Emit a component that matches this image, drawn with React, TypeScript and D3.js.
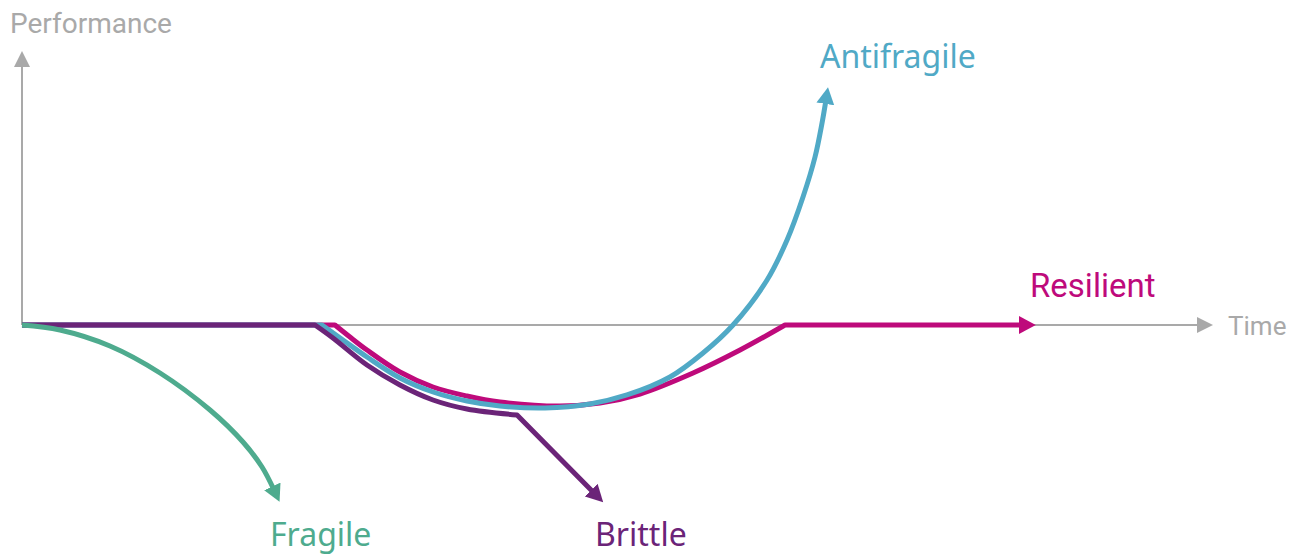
import * as d3 from 'd3'

// performance curves (time 0..100, performance -100..100)
const fragile: [number, number][] = [
  [0, 0], [3.19, -1.83], [7.39, -7.69], [11.6, -17.58], [15.8, -31.14], [18.57, -42.86],
  [20.17, -52.01], [21.18, -60.44],
]
const brittleFlat: [number, number][] = [[0, 0], [24.62, 0]]
const brittleCurve: [number, number][] = [
  [24.62, 0], [26.13, -4.76], [28.99, -14.65], [31.76, -21.98], [34.54, -27.47],
  [37.39, -30.77], [41.6, -32.97],
]
const brittleDrop: [number, number][] = [[41.6, -32.97], [48.07, -61.54]]
const antiFlat: [number, number][] = [[0, 0], [25.21, 0]]
const antiCurve: [number, number][] = [
  [25.21, 0], [26.97, -5.49], [28.99, -11.72], [31.76, -19.41], [34.54, -24.54],
  [37.39, -27.84], [40.17, -29.67], [43.95, -30.4], [47.73, -28.94], [50.84, -25.64],
  [54.45, -19.05], [57.23, -10.26], [59.75, 0], [62.61, 16.48], [64.29, 31.14],
  [65.63, 46.89], [66.64, 61.54], [67.23, 73.99], [67.56, 82.42],
]
const resFlat: [number, number][] = [[0, 0], [26.3, 0]]
const resCurve: [number, number][] = [
  [26.3, 0], [27.56, -4.4], [28.99, -9.16], [31.76, -17.22], [34.54, -22.71],
  [37.39, -26.01], [40.17, -28.21], [45.21, -29.67], [48.57, -28.57], [51.93, -25.27],
  [56.39, -17.58], [60.34, -9.16], [64.12, 0],
]
const resTail: [number, number][] = [[64.12, 0], [84.1, 0]]

const W = 1301
const H = 556
const x = d3.scaleLinear().domain([0, 100]).range([22, 1212])
const y = d3.scaleLinear().domain([-100, 100]).range([598, 52])

const straight = d3
  .line<[number, number]>()
  .x((d) => x(d[0]))
  .y((d) => y(d[1]))
const smooth = d3
  .line<[number, number]>()
  .x((d) => x(d[0]))
  .y((d) => y(d[1]))
  .curve(d3.curveCatmullRom.alpha(0.5))

// join pieces into one path so the marker sits at the end
function joined(parts: [d3.Line<[number, number]>, [number, number][]][]): string {
  return parts
    .map(([gen, pts], i) => {
      const s = gen(pts) || ''
      return i === 0 ? s : 'L' + s.slice(1)
    })
    .join('')
}

const GRAY = '#a9a9a9'
const GREEN = '#4eab8e'
const PURPLE = '#6b2478'
const BLUE = '#50a9c6'
const MAGENTA = '#be0a7b'

const Arrow: React.FC<{ id: string; color: string }> = ({ id, color }) => (
  <marker
    id={id}
    markerUnits="userSpaceOnUse"
    markerWidth={20}
    markerHeight={20}
    refX={4}
    refY={9}
    orient="auto"
  >
    <path d="M0,0 L17,9 L0,18 Z" fill={color} />
  </marker>
)

const App = () => {
  const x0 = x(0)
  const y0 = y(0)
  const lw = 5
  return (
    <svg width={W} height={H} style={{ position: 'absolute', left: 0, top: 0 }}>
      <defs>
        <Arrow id="a-green" color={GREEN} />
        <Arrow id="a-purple" color={PURPLE} />
        <Arrow id="a-blue" color={BLUE} />
        <Arrow id="a-magenta" color={MAGENTA} />
      </defs>
      {/* axes */}
      <line x1={x0} y1={y0} x2={1200} y2={y0} stroke={GRAY} strokeWidth={2} />
      <path d={`M1197,${y0 - 8} L1213,${y0} L1197,${y0 + 8} Z`} fill={GRAY} />
      <line x1={x0} y1={y0} x2={x0} y2={65} stroke={GRAY} strokeWidth={2} />
      <path d={`M${x0 - 8},67 L${x0},51 L${x0 + 8},67 Z`} fill={GRAY} />
      <g fill="none" strokeWidth={lw} strokeLinejoin="round">
        <path
          d={joined([[straight, resFlat], [smooth, resCurve], [straight, resTail]])}
          stroke={MAGENTA}
          markerEnd="url(#a-magenta)"
        />
        <path
          d={joined([[straight, antiFlat], [smooth, antiCurve]])}
          stroke={BLUE}
          markerEnd="url(#a-blue)"
        />
        <path
          d={joined([[straight, brittleFlat], [smooth, brittleCurve], [straight, brittleDrop]])}
          stroke={PURPLE}
          markerEnd="url(#a-purple)"
        />
        <path d={smooth(fragile) || ''} stroke={GREEN} markerEnd="url(#a-green)" />
      </g>
      <g fontFamily="Roboto" fill={GRAY}>
        <text x={10} y={33} fontSize={28}>Performance</text>
        <text x={1228} y={335} fontSize={26}>Time</text>
      </g>
      <text x={1030} y={297} fontFamily="Roboto" fontSize={33} fill={MAGENTA}>Resilient</text>
      <g fontFamily="Noto Sans" fontSize={32}>
        <text x={820} y={68} fill={BLUE}>Antifragile</text>
        <text x={270} y={546} fill={GREEN}>Fragile</text>
        <text x={595} y={546} fill={PURPLE}>Brittle</text>
      </g>
    </svg>
  )
}

export default App
